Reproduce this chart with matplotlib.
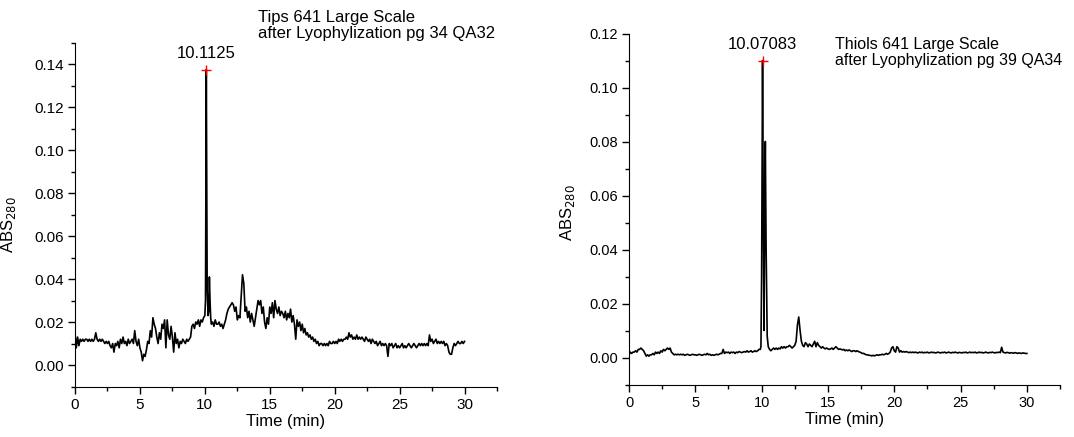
import numpy as np
import matplotlib
matplotlib.use("Agg")
import matplotlib.pyplot as plt
from matplotlib.ticker import MultipleLocator

plt.rcParams['font.family'] = ['Liberation Sans', 'DejaVu Sans']

# ---- Tips 641 (left) : 0.1 min sampling plus extra points round the peaks
tips_t = [round(0.1 * i, 2) for i in range(0, 101)] + \
    [10.05, 10.1125, 10.18, 10.25, 10.3, 10.35, 10.4, 10.45] + \
    [round(0.1 * i, 2) for i in range(105, 301)]
tips_abs = [
    0.015, 0.008, 0.013, 0.009, 0.012, 0.011, 0.012, 0.011, 0.012, 0.012,
    0.011, 0.012, 0.011, 0.012, 0.011, 0.012, 0.015, 0.012, 0.011, 0.012,
    0.011, 0.012, 0.011, 0.010, 0.011, 0.010, 0.011, 0.009, 0.008, 0.010,
    0.006, 0.010, 0.009, 0.011, 0.008, 0.012, 0.010, 0.013, 0.010, 0.011,
    0.009, 0.012, 0.010, 0.011, 0.012, 0.010, 0.016, 0.011, 0.009, 0.012,
    0.008, 0.006, 0.002, 0.005, 0.004, 0.007, 0.011, 0.010, 0.016, 0.013,
    0.022, 0.019, 0.017, 0.013, 0.010, 0.015, 0.012, 0.019, 0.017, 0.021,
    0.008, 0.021, 0.014, 0.012, 0.018, 0.013, 0.006, 0.015, 0.010, 0.012,
    0.008, 0.011, 0.010, 0.012, 0.011, 0.010, 0.012, 0.011, 0.012, 0.013,
    0.018, 0.019, 0.017, 0.020, 0.019, 0.021, 0.018, 0.021, 0.020, 0.022,
    0.023,
    0.030, 0.1375, 0.035, 0.023, 0.025, 0.041, 0.030, 0.022,
    0.019, 0.020, 0.018, 0.021, 0.019,
    0.019, 0.020, 0.018, 0.019, 0.017, 0.019, 0.021, 0.024, 0.026, 0.027,
    0.028, 0.029, 0.028, 0.025, 0.027, 0.021, 0.023, 0.022, 0.032, 0.042,
    0.038, 0.025, 0.027, 0.022, 0.025, 0.020, 0.024, 0.021, 0.018, 0.022,
    0.026, 0.030, 0.028, 0.030, 0.024, 0.027, 0.020, 0.017, 0.022, 0.019,
    0.027, 0.024, 0.029, 0.022, 0.030, 0.026, 0.024, 0.027, 0.023, 0.025,
    0.024, 0.022, 0.025, 0.021, 0.024, 0.022, 0.026, 0.020, 0.023, 0.019,
    0.012, 0.021, 0.018, 0.020, 0.016, 0.019, 0.015, 0.017, 0.014, 0.015,
    0.013, 0.014, 0.012, 0.013, 0.011, 0.012, 0.010, 0.011, 0.009, 0.010,
    0.010, 0.009, 0.010, 0.009, 0.010, 0.009, 0.011, 0.010, 0.010, 0.011,
    0.010, 0.011, 0.010, 0.012, 0.011, 0.012, 0.011, 0.012, 0.012, 0.013,
    0.012, 0.015, 0.013, 0.014, 0.012, 0.013, 0.012, 0.014, 0.012, 0.013,
    0.012, 0.013, 0.012, 0.011, 0.013, 0.012, 0.011, 0.012, 0.010, 0.012,
    0.011, 0.010, 0.011, 0.009, 0.010, 0.011, 0.009, 0.010, 0.009, 0.010,
    0.009, 0.004, 0.010, 0.009, 0.010, 0.008, 0.009, 0.010, 0.008, 0.009,
    0.008, 0.009, 0.010, 0.008, 0.009, 0.008, 0.009, 0.010, 0.009, 0.008,
    0.009, 0.010, 0.009, 0.008, 0.009, 0.010, 0.009, 0.010, 0.009, 0.010,
    0.009, 0.010, 0.009, 0.014, 0.011, 0.012, 0.010, 0.011, 0.012, 0.010,
    0.011, 0.010, 0.011, 0.010, 0.011, 0.009, 0.010, 0.009, 0.006, 0.005,
    0.005, 0.008, 0.010, 0.009, 0.010, 0.011, 0.010, 0.010, 0.011, 0.010,
    0.011,
]

# ---- Thiols 641 (right)
thiols_t = [round(0.1 * i, 2) for i in range(0, 100)] + \
    [9.95, 10.0, 10.07083, 10.12, 10.18, 10.24, 10.28, 10.34, 10.42, 10.5] + \
    [round(0.1 * i, 2) for i in range(106, 301)]
thiols_abs = [
    0.0010, 0.0020, 0.0015, 0.0020, 0.0020, 0.0025, 0.0020, 0.0030, 0.0030, 0.0035,
    0.0030, 0.0025, 0.0015, 0.0005, 0.0010, 0.0005, 0.0010, 0.0010, 0.0015, 0.0010,
    0.0020, 0.0015, 0.0020, 0.0015, 0.0025, 0.0020, 0.0030, 0.0025, 0.0030, 0.0035,
    0.0030, 0.0035, 0.0020, 0.0015, 0.0010, 0.0012, 0.0010, 0.0012, 0.0010, 0.0012,
    0.0010, 0.0012, 0.0008, 0.0010, 0.0012, 0.0010, 0.0008, 0.0010, 0.0012, 0.0010,
    0.0010, 0.0008, 0.0010, 0.0012, 0.0010, 0.0008, 0.0010, 0.0012, 0.0010, 0.0015,
    0.0010, 0.0012, 0.0008, 0.0010, 0.0008, 0.0010, 0.0012, 0.0010, 0.0012, 0.0015,
    0.0015, 0.0030, 0.0015, 0.0020, 0.0018, 0.0020, 0.0015, 0.0020, 0.0018, 0.0020,
    0.0015, 0.0020, 0.0018, 0.0022, 0.0020, 0.0018, 0.0020, 0.0022, 0.0020, 0.0025,
    0.0020, 0.0022, 0.0025, 0.0020, 0.0022, 0.0025, 0.0022, 0.0025, 0.0030, 0.0030,
    0.0040, 0.0300, 0.1100, 0.0600, 0.0100, 0.0600, 0.0800, 0.0400, 0.0080, 0.0040,
    0.0030, 0.0025, 0.0030, 0.0035,
    0.0030, 0.0035, 0.0030, 0.0035, 0.0032, 0.0040, 0.0035, 0.0040, 0.0035, 0.0040,
    0.0040, 0.0045, 0.0040, 0.0035, 0.0040, 0.0045, 0.0060, 0.0120, 0.0150, 0.0100,
    0.0060, 0.0045, 0.0040, 0.0055, 0.0050, 0.0040, 0.0050, 0.0045, 0.0040, 0.0050,
    0.0060, 0.0040, 0.0055, 0.0045, 0.0040, 0.0035, 0.0040, 0.0035, 0.0032, 0.0035,
    0.0032, 0.0030, 0.0032, 0.0035, 0.0030, 0.0035, 0.0040, 0.0035, 0.0030, 0.0032,
    0.0030, 0.0028, 0.0030, 0.0025, 0.0028, 0.0025, 0.0028, 0.0025, 0.0022, 0.0025,
    0.0025, 0.0022, 0.0025, 0.0022, 0.0020, 0.0018, 0.0015, 0.0015, 0.0012, 0.0010,
    0.0010, 0.0008, 0.0008, 0.0006, 0.0008, 0.0006, 0.0008, 0.0010, 0.0008, 0.0010,
    0.0010, 0.0012, 0.0010, 0.0012, 0.0015, 0.0012, 0.0015, 0.0020, 0.0035, 0.0040,
    0.0025, 0.0020, 0.0040, 0.0035, 0.0020, 0.0025, 0.0020, 0.0022, 0.0020, 0.0022,
    0.0020, 0.0018, 0.0020, 0.0018, 0.0020, 0.0018, 0.0020, 0.0018, 0.0017, 0.0020,
    0.0018, 0.0020, 0.0017, 0.0019, 0.0018, 0.0020, 0.0017, 0.0018, 0.0020, 0.0018,
    0.0019, 0.0017, 0.0018, 0.0020, 0.0018, 0.0017, 0.0019, 0.0018, 0.0020, 0.0017,
    0.0018, 0.0020, 0.0018, 0.0017, 0.0019, 0.0018, 0.0020, 0.0018, 0.0017, 0.0019,
    0.0018, 0.0017, 0.0019, 0.0018, 0.0020, 0.0017, 0.0018, 0.0020, 0.0018, 0.0019,
    0.0018, 0.0020, 0.0017, 0.0018, 0.0020, 0.0018, 0.0019, 0.0017, 0.0018, 0.0020,
    0.0018, 0.0017, 0.0019, 0.0018, 0.0020, 0.0018, 0.0017, 0.0019, 0.0018, 0.0020,
    0.0018, 0.0038, 0.0020, 0.0018, 0.0017, 0.0019, 0.0018, 0.0016, 0.0018, 0.0017,
    0.0016, 0.0018, 0.0017, 0.0015, 0.0017, 0.0016, 0.0015, 0.0017, 0.0016, 0.0015,
    0.0015,
]

tips_peak = (10.1125, 0.1375)
thiols_peak = (10.07083, 0.110)
titles = ["Tips 641 Large Scale\nafter Lyophylization pg 34 QA32",
          "Thiols 641 Large Scale\nafter Lyophylization pg 39 QA34"]

W, H = 1074, 437
fig = plt.figure(figsize=(W / 100, H / 100), dpi=100)

def px_axes(l, t, r, b):
    return fig.add_axes([l / W, 1 - b / H, (r - l) / W, (b - t) / H])

ax1 = px_axes(75, 42.7, 497, 386.5)
ax2 = px_axes(629, 33.5, 1060, 384.5)

def style(ax, ymax, fs):
    for s in ['top', 'right']:
        ax.spines[s].set_visible(False)
    ax.set_xlim(0, 32.5)
    ax.set_ylim(-0.01, ymax)
    ax.xaxis.set_major_locator(MultipleLocator(5))
    ax.xaxis.set_minor_locator(MultipleLocator(2.5))
    ax.yaxis.set_major_locator(MultipleLocator(0.02))
    ax.yaxis.set_minor_locator(MultipleLocator(0.01))
    ax.yaxis.set_major_formatter(matplotlib.ticker.FormatStrFormatter('%.2f'))
    ax.tick_params(which='major', direction='out', length=5, width=1, labelsize=fs, pad=3)
    ax.tick_params(which='minor', direction='out', length=3, width=1)
    ax.set_xlabel('Time (min)', fontsize=12, labelpad=2)
    ax.set_ylabel('ABS$_{280}$', fontsize=12)

style(ax1, 0.15, 11)
style(ax2, 0.12, 10.5)
ax1.set_yticks(np.arange(0, 0.141, 0.02))
ax2.set_yticks(np.arange(0, 0.121, 0.02))
ax1.yaxis.set_label_coords(-0.135, 0.47)
ax2.yaxis.set_label_coords(-0.12, 0.49)

for ax, t, v, pk in [(ax1, tips_t, tips_abs, tips_peak), (ax2, thiols_t, thiols_abs, thiols_peak)]:
    ax.plot(t, v, color='black', lw=1.2)
    ax.plot(pk[0], pk[1], marker='+', color='red', ms=7, mew=1)
    lbl = ('%.5f' % pk[0]).rstrip('0')
    ax.annotate(lbl, xy=pk, xytext=(0, 8), textcoords='offset points',
                ha='center', va='baseline', fontsize=12)

fig.text(258 / W, 1 - 10 / H, titles[0], ha='left', va='top', fontsize=12, linespacing=1.1)
fig.text(835 / W, 1 - 37 / H, titles[1], ha='left', va='top', fontsize=11.5, linespacing=1.1)

fig.savefig('out.png', dpi=100)
